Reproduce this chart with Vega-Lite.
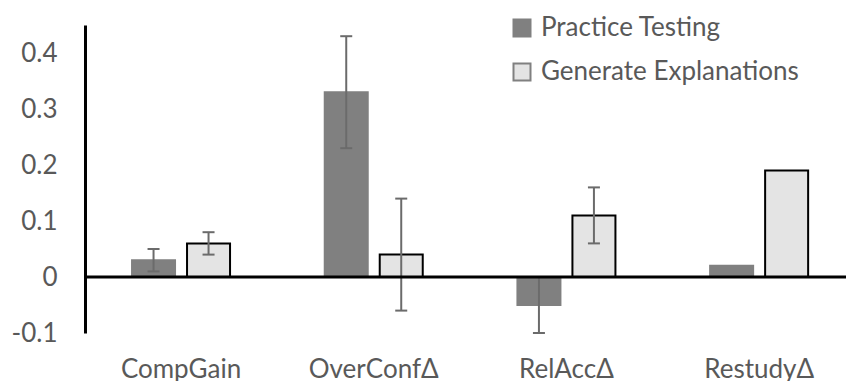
{
  "$schema": "https://vega.github.io/schema/vega-lite/v6.json",
  "width": 761,
  "height": 308,
  "autosize": {"type": "none"},
  "padding": {"left": 85, "top": 25, "right": 0, "bottom": 48},
  "background": "white",
  "config": {"view": {"stroke": null}, "font": "Lato"},
  "data": {
    "values": [
      {"measure": "CompGain", "series": "Practice Testing", "value": 0.03, "lo": 0.01, "hi": 0.05},
      {"measure": "CompGain", "series": "Generate Explanations", "value": 0.06, "lo": 0.04, "hi": 0.08},
      {"measure": "OverConfΔ", "series": "Practice Testing", "value": 0.33, "lo": 0.23, "hi": 0.43},
      {"measure": "OverConfΔ", "series": "Generate Explanations", "value": 0.04, "lo": -0.06, "hi": 0.14},
      {"measure": "RelAccΔ", "series": "Practice Testing", "value": -0.05, "lo": -0.1, "hi": 0.0},
      {"measure": "RelAccΔ", "series": "Generate Explanations", "value": 0.11, "lo": 0.06, "hi": 0.16},
      {"measure": "RestudyΔ", "series": "Practice Testing", "value": 0.02, "lo": null, "hi": null},
      {"measure": "RestudyΔ", "series": "Generate Explanations", "value": 0.19, "lo": null, "hi": null}
    ]
  },
  "layer": [
    {
      "mark": {"type": "bar", "strokeWidth": 2},
      "encoding": {
        "x": {
          "field": "measure", "type": "nominal",
          "sort": ["CompGain", "OverConfΔ", "RelAccΔ", "RestudyΔ"],
          "scale": {"paddingInner": 0.4914, "paddingOuter": 0.2203, "align": 0.554},
          "axis": {"title": null, "domain": false, "ticks": false, "labelAngle": 0, "labelFontSize": 26, "labelColor": "#595959", "labelBaseline": "alphabetic", "labelPadding": 44, "labelFont": "Lato"}
        },
        "xOffset": {
          "field": "series", "type": "nominal",
          "sort": ["Practice Testing", "Generate Explanations"],
          "scale": {"paddingInner": 0.218, "paddingOuter": 0}
        },
        "y": {
          "field": "value", "type": "quantitative",
          "scale": {"domain": [-0.1, 0.45], "nice": false, "zero": false},
          "axis": {"title": null, "values": [-0.1, 0, 0.1, 0.2, 0.3, 0.4], "labelExpr": "toString(round(datum.value*10)/10)", "grid": false, "ticks": false, "domainColor": "#000000", "domainWidth": 3, "labelFontSize": 26, "labelColor": "#595959", "labelPadding": 28, "labelFont": "Lato"}
        },
        "color": {
          "field": "series", "type": "nominal",
          "sort": ["Practice Testing", "Generate Explanations"],
          "scale": {"range": ["#808080", "#e4e4e4"]},
          "legend": {
            "title": null, "orient": "none", "legendX": 424, "legendY": -10,
            "symbolType": "square", "symbolSize": 289, "symbolStrokeWidth": 2, "symbolOpacity": 1,
            "labelFontSize": 26, "labelColor": "#595959", "labelFont": "Lato", "labelOffset": 6, "labelLimit": 400,
            "rowPadding": 18, "padding": 0,
            "encode": {
              "symbols": {
                "update": {
                  "stroke": [
                    {"test": "datum.label === 'Generate Explanations' || datum.value === 'Generate Explanations'", "value": "#000000"},
                    {"value": "#808080"}
                  ],
                  "strokeWidth": {"value": 2}
                }
              }
            }
          }
        },
        "stroke": {
          "condition": {"test": "datum.series == 'Generate Explanations'", "value": "#000000"},
          "value": "#808080"
        }
      }
    },
    {
      "transform": [{"filter": "datum.lo != null"}],
      "mark": {"type": "rule", "color": "#6b6b6b", "strokeWidth": 2},
      "encoding": {
        "x": {"field": "measure", "type": "nominal", "sort": ["CompGain", "OverConfΔ", "RelAccΔ", "RestudyΔ"]},
        "xOffset": {"field": "series", "type": "nominal", "sort": ["Practice Testing", "Generate Explanations"]},
        "y": {"field": "lo", "type": "quantitative"},
        "y2": {"field": "hi"}
      }
    },
    {
      "transform": [{"filter": "datum.lo != null"}],
      "mark": {"type": "tick", "color": "#6b6b6b", "size": 12, "thickness": 2, "opacity": 1},
      "encoding": {
        "x": {"field": "measure", "type": "nominal", "sort": ["CompGain", "OverConfΔ", "RelAccΔ", "RestudyΔ"]},
        "xOffset": {"field": "series", "type": "nominal", "sort": ["Practice Testing", "Generate Explanations"]},
        "y": {"field": "lo", "type": "quantitative"}
      }
    },
    {
      "transform": [{"filter": "datum.lo != null"}],
      "mark": {"type": "tick", "color": "#6b6b6b", "size": 12, "thickness": 2, "opacity": 1},
      "encoding": {
        "x": {"field": "measure", "type": "nominal", "sort": ["CompGain", "OverConfΔ", "RelAccΔ", "RestudyΔ"]},
        "xOffset": {"field": "series", "type": "nominal", "sort": ["Practice Testing", "Generate Explanations"]},
        "y": {"field": "hi", "type": "quantitative"}
      }
    },
    {
      "data": {"values": [{"z": 0}]},
      "mark": {"type": "rule", "color": "#000000", "strokeWidth": 3},
      "encoding": {"y": {"field": "z", "type": "quantitative"}}
    }
  ]
}
